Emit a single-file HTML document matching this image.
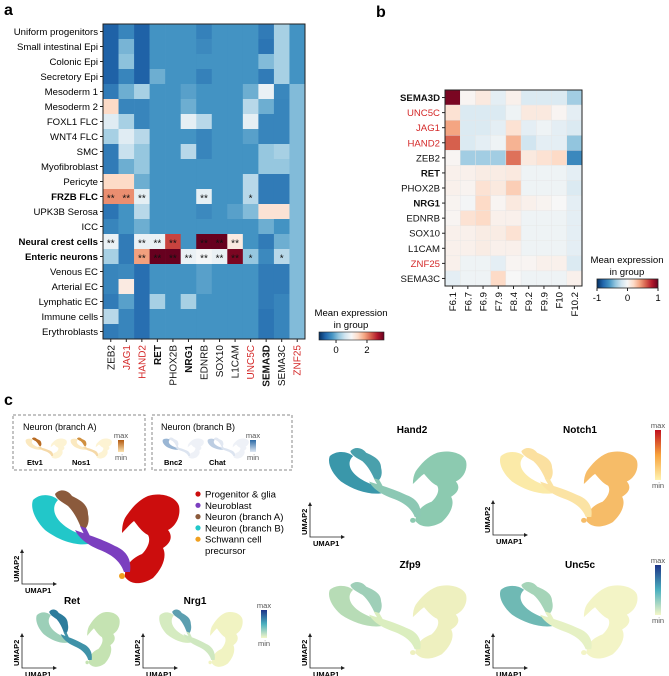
<!DOCTYPE html>
<html><head><meta charset="utf-8">
<style>
body{margin:0;background:#fff;}
svg{font-family:"Liberation Sans",Arial,sans-serif;display:block}
</style></head>
<body>
<svg id="fig" width="669" height="676" viewBox="0 0 669 676" xmlns="http://www.w3.org/2000/svg">
<defs>
<linearGradient id="rdbu" x1="0" x2="1" y1="0" y2="0">
<stop offset="0" stop-color="#053061"/><stop offset="0.1" stop-color="#2166ac"/><stop offset="0.2" stop-color="#4393c3"/><stop offset="0.3" stop-color="#92c5de"/><stop offset="0.4" stop-color="#d1e5f0"/><stop offset="0.5" stop-color="#f7f7f7"/><stop offset="0.6" stop-color="#fddbc7"/><stop offset="0.7" stop-color="#f4a582"/><stop offset="0.8" stop-color="#d6604d"/><stop offset="0.9" stop-color="#b2182b"/><stop offset="1" stop-color="#67001f"/>
</linearGradient>
<linearGradient id="ylorrd" x1="0" x2="0" y1="1" y2="0"><stop offset="0" stop-color="#fff3b0"/><stop offset="0.5" stop-color="#f8a33c"/><stop offset="1" stop-color="#c0101e"/></linearGradient>
<linearGradient id="ylgnbu" x1="0" x2="0" y1="1" y2="0"><stop offset="0" stop-color="#f4f7c8"/><stop offset="0.5" stop-color="#4bb0bf"/><stop offset="1" stop-color="#1c3488"/></linearGradient>
<linearGradient id="orgbar" x1="0" x2="0" y1="1" y2="0"><stop offset="0" stop-color="#fbe3b0"/><stop offset="1" stop-color="#b35a10"/></linearGradient>
<linearGradient id="bluebar" x1="0" x2="0" y1="1" y2="0"><stop offset="0" stop-color="#dfe8f3"/><stop offset="1" stop-color="#2c6aa6"/></linearGradient>
</defs>
<g id="heatA"></g>
<g id="heatB"></g>
<g id="panelC"></g>
<text x="4" y="15" font-size="16" font-weight="bold">a</text>
<text x="376" y="17" font-size="16" font-weight="bold">b</text>
<text x="4" y="405" font-size="16" font-weight="bold">c</text>
</svg>
<script>
// ---------- Panel a data ----------
const rowsA = ["Uniform progenitors","Small intestinal Epi","Colonic Epi","Secretory Epi","Mesoderm 1","Mesoderm 2","FOXL1 FLC","WNT4 FLC","SMC","Myofibroblast","Pericyte","FRZB FLC","UPK3B Serosa","ICC","Neural crest cells","Enteric neurons","Venous EC","Arterial EC","Lymphatic EC","Immune cells","Erythroblasts"];
const rowsABold = ["FRZB FLC","Neural crest cells","Enteric neurons"];
const colsA = ["ZEB2","JAG1","HAND2","RET","PHOX2B","NRG1","EDNRB","SOX10","L1CAM","UNC5C","SEMA3D","SEMA3C","ZNF25"];
const colsARed = ["JAG1","HAND2","UNC5C","ZNF25"];
const colsABold = ["RET","NRG1","SEMA3D"];
const valsA = [
[-0.4,-0.12,-0.4,0,0,0,-0.15,0,0,0,-0.2,0.5,0],
[-0.4,0.25,-0.4,0,0,0,-0.08,0,0,0,-0.25,0.5,0],
[-0.4,0.35,-0.4,0,0,0,0,0,0,0,0.3,0.5,0],
[-0.4,-0.12,-0.4,0.2,0,0,-0.15,0,0,0,-0.2,0.5,0],
[-0.2,0.2,0.5,0,0,0.1,0,0,0,0.2,1.0,-0.1,0.3],
[1.5,-0.12,-0.12,0,0,0.2,0,0,0,0.6,0.2,-0.12,0.3],
[0.9,0.5,-0.12,0,0,0.95,0.6,0,0,0.95,-0.12,-0.12,0.3],
[0.5,0.9,0.6,0,0,0,-0.12,0,0,0.1,-0.12,-0.12,0.3],
[-0.2,0.7,0.4,0,0,0.6,-0.12,0,0,0,0.4,0.5,0.3],
[-0.2,0.2,0.4,0,0,0,0,0,0,0,0.4,0.4,0.3],
[1.5,1.5,0.2,0,0,0,0,0,0,0.6,-0.2,-0.2,0.3],
[2.0,2.0,0.95,0,0,0,0.95,0,0,0.6,-0.2,-0.2,0.3],
[-0.25,0,0.6,0,0,0,-0.08,0,0.1,0.3,1.4,1.4,0.3],
[-0.12,0,0.2,0,0,0,0,0,0,0,0.2,0,0.3],
[1.0,-0.2,1.0,1.0,2.4,0,3.2,3.2,1.3,0,-0.2,0.2,0.3],
[0.5,-0.2,1.9,3.2,3.2,1.0,1.1,1.0,2.9,0.4,-0.08,0.6,0.3],
[-0.12,-0.08,-0.3,0,0,0,0.1,0,0,0,-0.2,-0.2,0.3],
[-0.12,1.3,-0.3,0,0,0,0.1,0,0,0,-0.2,-0.2,0.3],
[-0.2,0.1,-0.3,0.5,0,0.5,0,0,0,0,-0.2,-0.12,0.3],
[0.6,-0.12,-0.3,0,0,0,0,0,0,0,-0.25,-0.12,0.3],
[-0.2,-0.12,-0.3,0,0,0,0,0,0,0,-0.25,-0.12,0.3]
];
const starsA = [
["FRZB FLC","ZEB2","**"],["FRZB FLC","JAG1","**"],["FRZB FLC","HAND2","**"],["FRZB FLC","EDNRB","**"],["FRZB FLC","UNC5C","*"],
["Neural crest cells","ZEB2","**"],["Neural crest cells","HAND2","**"],["Neural crest cells","RET","**"],["Neural crest cells","PHOX2B","**"],["Neural crest cells","EDNRB","**"],["Neural crest cells","SOX10","**"],["Neural crest cells","L1CAM","**"],
["Enteric neurons","HAND2","**"],["Enteric neurons","RET","**"],["Enteric neurons","PHOX2B","**"],["Enteric neurons","NRG1","**"],["Enteric neurons","EDNRB","**"],["Enteric neurons","SOX10","**"],["Enteric neurons","L1CAM","**"],["Enteric neurons","UNC5C","*"],["Enteric neurons","SEMA3C","*"]
];
const cbATicks = [0,2];
// ---------- Panel b data ----------
const rowsB = ["SEMA3D","UNC5C","JAG1","HAND2","ZEB2","RET","PHOX2B","NRG1","EDNRB","SOX10","L1CAM","ZNF25","SEMA3C"];
const rowsBRed = ["UNC5C","JAG1","HAND2","ZNF25"];
const rowsBBold = ["SEMA3D","RET","NRG1"];
const colsB = ["F6.1","F6.7","F6.9","F7.9","F8.4","F9.2","F9.9","F10","F10.2"];
const valsB = [
[0.95,0.02,0.1,-0.1,0.05,-0.15,-0.15,-0.15,-0.35],
[0.15,-0.15,-0.15,-0.15,-0.05,0.1,0.1,0.02,-0.1],
[0.4,-0.15,-0.15,-0.1,0.15,-0.1,-0.05,-0.1,-0.15],
[0.6,-0.15,-0.1,-0.05,0.35,-0.2,-0.1,-0.1,-0.4],
[0.02,-0.35,-0.35,-0.35,0.55,0.1,0.15,0.2,-0.65],
[0.05,0.05,0.08,0.08,0.1,-0.05,-0.05,-0.05,-0.1],
[0.05,0.03,0.15,0.1,0.25,-0.05,-0.05,-0.05,-0.15],
[0.03,-0.02,0.2,0.02,0.1,0.05,0.03,0,-0.1],
[0.02,0.15,0.2,0.05,0.05,-0.05,-0.05,-0.05,-0.1],
[0.05,0.05,0.08,0.08,0.15,-0.05,-0.05,-0.05,-0.1],
[0.05,0.05,0.08,0.05,0.05,-0.05,-0.05,-0.05,-0.1],
[0.05,-0.05,-0.05,-0.1,0.02,0.02,0.05,0.05,-0.15],
[-0.1,-0.05,-0.05,0.2,0,-0.05,-0.05,-0.05,0.05]
];
const cbBTicks = [-1,0,1];

const NS="http://www.w3.org/2000/svg";
function mk(tag,attrs,parent,txt){const e=document.createElementNS(NS,tag);for(const k in attrs)e.setAttribute(k,attrs[k]);if(txt!==undefined)e.textContent=txt;parent.appendChild(e);return e;}
const stops=[[5,48,97],[33,102,172],[67,147,195],[146,197,222],[209,229,240],[247,247,247],[253,219,199],[244,165,130],[214,96,77],[178,24,43],[103,0,31]];
function rdbu(t){t=Math.max(0,Math.min(1,t));const p=t*10,i=Math.min(9,Math.floor(p)),f=p-i;const a=stops[i],b=stops[i+1];return `rgb(${a.map((v,k)=>Math.round(v+(b[k]-v)*f)).join(',')})`;}

// ---- heatmap a ----
(function(){
const g=document.getElementById('heatA');
const X0=103,Y0=24,W=202,H=315,cw=W/colsA.length,ch=H/rowsA.length;
const xs=i=>X0+i*cw, ys=j=>Y0+j*ch;
const col=v=>rdbu((v+0.75)/3.75);
rowsA.forEach((r,j)=>{colsA.forEach((c,i)=>{
 const el=mk('rect',{x:xs(i),y:ys(j),width:cw+0.3,height:ch+0.3,fill:col(valsA[j][i])},g);
 
 
});});
starsA.forEach(s=>{const j=rowsA.indexOf(s[0]),i=colsA.indexOf(s[1]);
 const t=mk('text',{x:xs(i)+cw/2,y:ys(j)+ch/2+5,'font-size':10,'text-anchor':'middle',fill:'#111'},g,s[2]);
 
 
});
mk('rect',{x:X0,y:Y0,width:W,height:H,fill:'none',stroke:'#222','stroke-width':1},g);
rowsA.forEach((r,j)=>{
 mk('line',{x1:X0-3,x2:X0,y1:ys(j)+ch/2,y2:ys(j)+ch/2,stroke:'#222'},g);
 const t=mk('text',{x:X0-5,y:ys(j)+ch/2+3.5,'font-size':9.6,'text-anchor':'end','font-weight':rowsABold.includes(r)?'bold':'normal'},g,r);
 
 
});
colsA.forEach((c,i)=>{
 const cx=xs(i)+cw/2;
 mk('line',{x1:cx,x2:cx,y1:Y0+H,y2:Y0+H+3,stroke:'#222'},g);
 const t=mk('text',{x:0,y:0,transform:`translate(${cx+3.5},${Y0+H+6}) rotate(-90)`,'font-size':10,'text-anchor':'end',fill:colsARed.includes(c)?'#d42a2a':'#111','font-weight':colsABold.includes(c)?'bold':'normal'},g,c);
 
 
});
// colorbar
const cx0=319,cx1=384,dmin=-1.1,dmax=3.1,cbx=v=>cx0+(v-dmin)/(dmax-dmin)*(cx1-cx0);
const lg=mk('g',{},g);
mk('text',{x:351,y:316,'font-size':9.6,'text-anchor':'middle'},lg,'Mean expression');
mk('text',{x:351,y:328,'font-size':9.6,'text-anchor':'middle'},lg,'in group');
mk('rect',{x:cx0,y:332,width:cx1-cx0,height:8,fill:'url(#rdbu)',stroke:'#222','stroke-width':0.6},lg);
cbATicks.forEach(v=>{mk('line',{x1:cbx(v),x2:cbx(v),y1:340,y2:343,stroke:'#222'},lg);mk('text',{x:cbx(v),y:353,'font-size':9.6,'text-anchor':'middle'},lg,String(v));});
})();

// ---- heatmap b ----
(function(){
const g=document.getElementById('heatB');
const X0=445,Y0=90,W=137,H=196,cw=W/colsB.length,ch=H/rowsB.length;
const xs=i=>X0+i*cw, ys=j=>Y0+j*ch;
rowsB.forEach((r,j)=>{colsB.forEach((c,i)=>{
 const el=mk('rect',{x:xs(i),y:ys(j),width:cw,height:ch,fill:rdbu((valsB[j][i]+1)/2),stroke:'#e6e6e6','stroke-width':0.4},g);
 
 
});});
mk('rect',{x:X0,y:Y0,width:W,height:H,fill:'none',stroke:'#222','stroke-width':1},g);
rowsB.forEach((r,j)=>{
 mk('line',{x1:X0-3,x2:X0,y1:ys(j)+ch/2,y2:ys(j)+ch/2,stroke:'#222'},g);
 const t=mk('text',{x:X0-5,y:ys(j)+ch/2+3.5,'font-size':9.6,'text-anchor':'end',fill:rowsBRed.includes(r)?'#d42a2a':'#111','font-weight':rowsBBold.includes(r)?'bold':'normal'},g,r);
 
 
});
colsB.forEach((c,i)=>{
 const cx=xs(i)+cw/2;
 mk('line',{x1:cx,x2:cx,y1:Y0+H,y2:Y0+H+3,stroke:'#222'},g);
 const t=mk('text',{x:0,y:0,transform:`translate(${cx+3.5},${Y0+H+6}) rotate(-90)`,'font-size':9.6,'text-anchor':'end'},g,c);
 
 
});
const cx0=597,cx1=658,cbx=v=>cx0+(v+1)/2*(cx1-cx0);
const lg=mk('g',{},g);
mk('text',{x:627,y:263,'font-size':9.6,'text-anchor':'middle'},lg,'Mean expression');
mk('text',{x:627,y:275,'font-size':9.6,'text-anchor':'middle'},lg,'in group');
mk('rect',{x:cx0,y:279,width:cx1-cx0,height:9,fill:'url(#rdbu)',stroke:'#222','stroke-width':0.8},lg);
cbBTicks.forEach(v=>{mk('line',{x1:cbx(v),x2:cbx(v),y1:288,y2:291,stroke:'#222'},lg);mk('text',{x:cbx(v),y:301,'font-size':9.6,'text-anchor':'middle'},lg,String(v));});
})();

// ---- panel c ----
(function(){
const g=document.getElementById('panelC');
const P={
 cyan:"M3,12 C10,5 22,6 28,12 C20,20 24,34 45,44 C55,48 62,50 58,56 C45,58 28,52 15,42 C5,32 0,20 3,12 Z",
 brown:"M25,6 C30,0 38,2 42,8 C50,12 58,16 58,26 C60,34 57,42 52,42 C48,32 44,24 38,18 C32,14 26,11 25,6 Z",
 purple:"M45,42 C55,46 70,50 85,58 C95,62 102,70 100,84 L94,84 C90,72 80,66 70,62 C60,58 50,52 45,42 Z M50,38 L56,40 L62,52 L57,52 Z",
 red:"M95,30 C100,22 108,12 118,8 C130,4 146,8 149,18 C151,28 146,38 138,42 C143,48 141,55 133,60 C137,68 133,80 123,90 C110,98 100,96 95,89 C94,78 102,70 112,66 C118,60 121,52 118,47 C112,44 108,38 104,33 C100,36 97,40 92,45 C92,39 93,34 95,30 Z",
 orange:"M89,88 a3,3 0 1,0 6,0 a3,3 0 1,0 -6,0 Z"
};
function umap(name,x,y,w,h,fills,op){
 const u=mk('g',{transform:`translate(${x},${y}) scale(${w/150},${h/97})`,opacity:op||1},g);
 
 
 ['red','cyan','brown','purple','orange'].forEach(k=>{if(fills[k])mk('path',{d:P[k],fill:fills[k]},u);});
 return u;
}
function axes(name,ox,oy){
 const a=mk('g',{},g);
 mk('path',{d:`M${ox},${oy-34} L${ox},${oy} L${ox+34},${oy}`,fill:'none',stroke:'#222','stroke-width':0.8},a);
 mk('path',{d:`M${ox-2},${oy-31} L${ox},${oy-35} L${ox+2},${oy-31}Z M${ox+31},${oy-2} L${ox+35},${oy} L${ox+31},${oy+2}Z`,fill:'#222'},a);
 mk('text',{x:ox+3,y:oy+9,'font-size':7.5,'font-weight':'bold'},a,'UMAP1');
 mk('text',{x:0,y:0,transform:`translate(${ox-3},${oy-2}) rotate(-90)`,'font-size':7.5,'font-weight':'bold'},a,'UMAP2');
}
function title(t,x,y){const e=mk('text',{x:x,y:y,'font-size':10,'font-weight':'bold','text-anchor':'middle'},g,t);}
function cbar(name,x,y,h,grad){const c=mk('g',{},g);
 mk('rect',{x:x,y:y,width:6,height:h,fill:grad},c);
 mk('text',{x:x+3,y:y-2,'font-size':7.5,'text-anchor':'middle',fill:'#555'},c,'max');
 mk('text',{x:x+3,y:y+h+8,'font-size':7.5,'text-anchor':'middle',fill:'#555'},c,'min');}

const bA=mk('rect',{x:13,y:415,width:132,height:55,fill:'none',stroke:'#888','stroke-dasharray':'3,2'},g);
const bB=mk('rect',{x:152,y:415,width:140,height:55,fill:'none',stroke:'#888','stroke-dasharray':'3,2'},g);
mk('text',{x:23,y:430,'font-size':9},g,'Neuron (branch A)');
mk('text',{x:161,y:430,'font-size':9},g,'Neuron (branch B)');
umap('inset-etv1',25,437,42,22,{red:'#fdf3d3',cyan:'#fbe9c0',brown:'#b86a22',purple:'#f5d9a8'});
umap('inset-nos1',70,437,42,22,{red:'#fdf3d3',cyan:'#fbe9c0',brown:'#d09040',purple:'#f5d9a8'});
umap('inset-bnc2',162,437,42,22,{red:'#eef1f7',cyan:'#9ab6d4',brown:'#e2e8f2',purple:'#dce4f0'});
umap('inset-chat',207,437,42,22,{red:'#eef1f7',cyan:'#bccde2',brown:'#e2e8f2',purple:'#dce4f0'});
[['Etv1',27],['Nos1',72],['Bnc2',164],['Chat',209]].forEach(a=>mk('text',{x:a[1],y:465,'font-size':7.5,'font-weight':'bold'},g,a[0]));
cbar('inset-colorbar-a',118,440,12,'url(#orgbar)');
cbar('inset-colorbar-b',250,440,12,'url(#bluebar)');

umap('umap-clusters',30,488,150,97,{red:'#cc0d0d',cyan:'#22c7c9',brown:'#8b5a3c',purple:'#7b3fbf',orange:'#f0a020'});
axes('axes-main',22,584);
const leg=[['Progenitor & glia','#cc0d0d'],['Neuroblast','#7b3fbf'],['Neuron (branch A)','#8b5a3c'],['Neuron (branch B)','#22c7c9'],['Schwann cell','#f0a020']];
leg.forEach((l,i)=>{const y=494+i*11.3;const e=mk('circle',{cx:198,cy:y,r:2.6,fill:l[1]},g);mk('text',{x:205,y:y+3.5,'font-size':9.6},g,l[0]);});
mk('text',{x:205,y:554,'font-size':9.6},g,'precursor');

title('Ret',72,604); umap('umap-ret',35,608,85,60,{red:'#c5e3b2',cyan:'#9ccfb8',brown:'#2c7c9c',purple:'#3f92a8',orange:'#c5e3b2'}); axes('axes-ret',22,668);
title('Nrg1',195,604); umap('umap-nrg1',158,608,85,60,{red:'#f1f3c2',cyan:'#d5ebc0',brown:'#5c9fb0',purple:'#cfe8c0',orange:'#f1f3c2'}); axes('axes-nrg1',143,668);
cbar('colorbar-nrg1',261,610,28,'url(#ylgnbu)');
title('Hand2',412,433); umap('umap-hand2',327,446,140,82,{red:'#8ccab0',cyan:'#3a97aa',brown:'#4aa0ac',purple:'#8cc8b4',orange:'#8ccab0'}); axes('axes-hand2',310,537);
title('Notch1',580,433); umap('umap-notch1',498,446,140,82,{red:'#f6bc68',cyan:'#fbeaa8',brown:'#fbe0a0',purple:'#fbe3a4',orange:'#f6bc68'}); axes('axes-notch1',493,535);
cbar('colorbar-notch1',655,430,50,'url(#ylorrd)');
title('Zfp9',410,568); umap('umap-zfp9',327,580,140,80,{red:'#eef0bf',cyan:'#b7dcb6',brown:'#9fcfb8',purple:'#dbeebf',orange:'#eef0bf'}); axes('axes-zfp9',310,668);
title('Unc5c',580,568); umap('umap-unc5c',498,580,140,80,{red:'#f3f4c6',cyan:'#6fb9b4',brown:'#a5d4b8',purple:'#e6f1c4',orange:'#f3f4c6'}); axes('axes-unc5c',493,668);
cbar('colorbar-unc5c',655,565,50,'url(#ylgnbu)');
})();
</script>
</body></html>
